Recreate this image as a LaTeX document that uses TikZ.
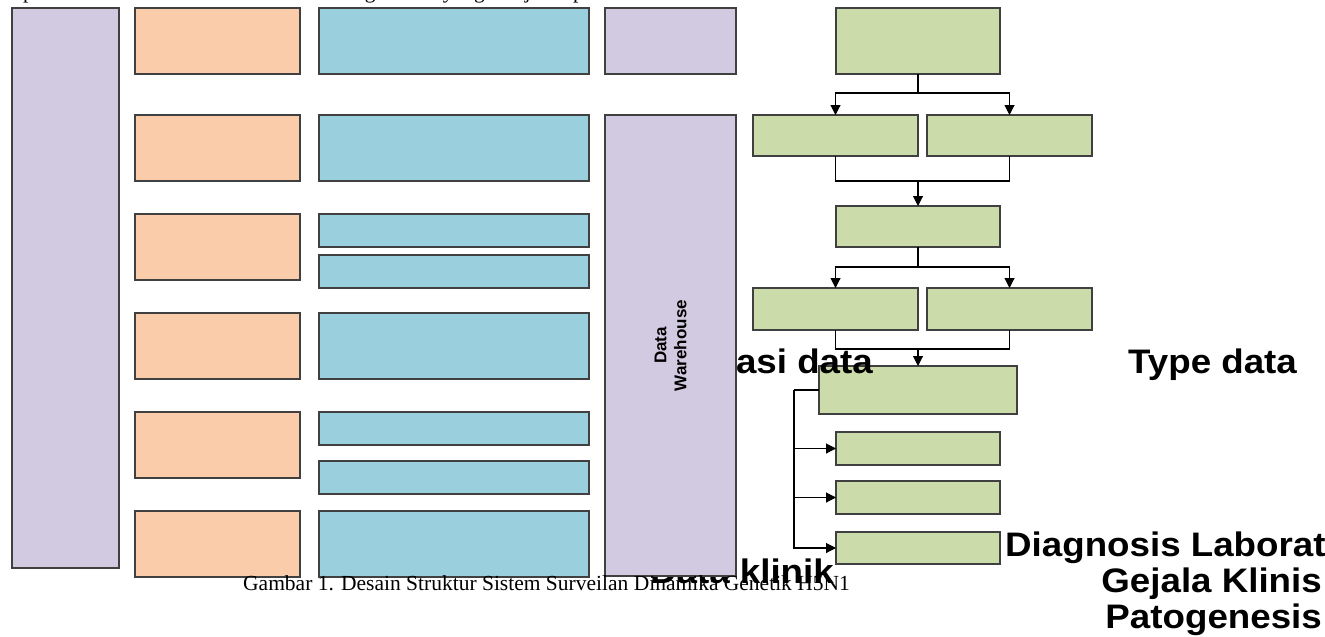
\documentclass[tikz,border=0pt]{standalone}
\usepackage{fontspec}
\setmainfont{Liberation Serif}
\newfontfamily\bigsans[FakeStretch=1.08]{Liberation Sans}
\newfontfamily\dwsans{Liberation Sans}
\usetikzlibrary{arrows.meta}
\definecolor{purplec}{RGB}{210,202,224}
\definecolor{orangec}{RGB}{250,204,170}
\definecolor{cyanc}{RGB}{154,208,222}
\definecolor{greenc}{RGB}{204,219,170}
\tikzset{
  box/.style={draw=black!75, line width=1.2pt, inner sep=0pt, outer sep=0pt, anchor=north west},
  pbox/.style={box, fill=purplec},
  obox/.style={box, fill=orangec},
  cbox/.style={box, fill=cyanc},
  gbox/.style={box, fill=greenc},
  conn/.style={line width=1.1pt, black},
  arr/.style={conn, -{Triangle[length=10pt,width=10pt]}},
  bigtext/.style={inner sep=0pt, font=\bigsans\bfseries\fontsize{34}{34}\selectfont},
  serif/.style={inner sep=0pt, font=\fontsize{21.5}{22}\selectfont}
}
\begin{document}
\begin{tikzpicture}[x=1pt,y=-1pt]
\useasboundingbox (0,0) rectangle (1325,637);
\begin{scope}
\clip (0,0) rectangle (1325,637);
% top clipped line of text
\node[serif, anchor=base east] (toptext) at (710,-1.5) {Adapun desain struktur Sistem data ini sebagaimana yang disajikan pada Gambar 1.};
% left purple
\node[pbox, minimum width=107pt, minimum height=560pt] (p0) at (12,8) {};
% orange column
\node[obox, minimum width=165pt, minimum height=66pt] (o1) at (135,8) {};
\node[obox, minimum width=165pt, minimum height=66pt] (o2) at (135,115) {};
\node[obox, minimum width=165pt, minimum height=66pt] (o3) at (135,214) {};
\node[obox, minimum width=165pt, minimum height=66pt] (o4) at (135,313) {};
\node[obox, minimum width=165pt, minimum height=66pt] (o5) at (135,412) {};
\node[obox, minimum width=165pt, minimum height=66pt] (o6) at (135,511) {};
% cyan column
\node[cbox, minimum width=270pt, minimum height=66pt] (c1) at (319,8) {};
\node[cbox, minimum width=270pt, minimum height=66pt] (c2) at (319,115) {};
\node[cbox, minimum width=270pt, minimum height=33pt] (c3a) at (319,214) {};
\node[cbox, minimum width=270pt, minimum height=33pt] (c3b) at (319,255) {};
\node[cbox, minimum width=270pt, minimum height=66pt] (c4) at (319,313) {};
\node[cbox, minimum width=270pt, minimum height=33pt] (c5a) at (319,412) {};
\node[cbox, minimum width=270pt, minimum height=33pt] (c5b) at (319,461) {};
\node[cbox, minimum width=270pt, minimum height=66pt] (c6) at (319,511) {};
% small purple
\node[pbox, minimum width=131pt, minimum height=66pt] (p1) at (605,8) {};
% green tree
\node[gbox, minimum width=164pt, minimum height=66pt] (g1) at (836,8) {};
\node[gbox, minimum width=165pt, minimum height=41pt] (g2a) at (753,115) {};
\node[gbox, minimum width=165pt, minimum height=41pt] (g2b) at (927,115) {};
\node[gbox, minimum width=164pt, minimum height=41pt] (g3) at (836,206) {};
\node[gbox, minimum width=165pt, minimum height=42pt] (g4a) at (753,288) {};
\node[gbox, minimum width=165pt, minimum height=42pt] (g4b) at (927,288) {};
\node[gbox, minimum width=198pt, minimum height=48pt] (g5) at (819,366) {};
\node[gbox, minimum width=164pt, minimum height=33pt] (g6) at (836,432) {};
\node[gbox, minimum width=164pt, minimum height=33pt] (g7) at (836,481) {};
\node[gbox, minimum width=164pt, minimum height=32pt] (g8) at (836,532) {};
% connectors
\coordinate (j1) at (918,93);
\coordinate (j2) at (918,181);
\coordinate (j3) at (918,267);
\coordinate (j4) at (918,349);
\coordinate (br) at (794,390);
\draw[conn] (g1.south) -- (j1);
\draw[arr] (j1) -| (g2a.north);
\draw[arr] (j1) -| (g2b.north);
\draw[conn] (g2a.south) |- (j2);
\draw[conn] (g2b.south) |- (j2);
\draw[arr] (j2) -- (g3.north);
\draw[conn] (g3.south) -- (j3);
\draw[arr] (j3) -| (g4a.north);
\draw[arr] (j3) -| (g4b.north);
\draw[conn] (g4a.south) |- (j4);
\draw[conn] (g4b.south) |- (j4);
\draw[arr] (j4) -- (g5.north);
\draw[conn] (g5.west) -- (br);
\draw[arr] (br) |- (g6.west);
\draw[arr] (br) |- (g7.west);
\draw[arr] (br) |- (g8.west);
% large texts
\node[bigtext, anchor=base east] (klas) at (873,373) {Klasifikasi data};
\node[bigtext, anchor=base west] (type) at (1128,373) {Type data};
\node[bigtext, anchor=base east] (klinik) at (834,583) {Data klinik};
% data warehouse
\node[pbox, minimum width=131pt, minimum height=461pt] (dw) at (605,115) {};
\node[rotate=90, align=center, inner sep=0pt, font=\dwsans\bfseries\fontsize{17}{20}\selectfont] (dwt) at (dw.center) {Data\\Warehouse};
% caption and right texts
\node[serif, anchor=base west] (cap) at (243,590) {Gambar 1. Desain Struktur Sistem Surveilan Dinamika Genetik H5N1};
\node[bigtext, anchor=base west] (diag) at (1005,556) {Diagnosis Laborat};
\node[bigtext, anchor=base east] (gej) at (1322,592) {Gejala Klinis};
\node[bigtext, anchor=base east] (pato) at (1322,628) {Patogenesis};
\end{scope}
\end{tikzpicture}
\end{document}
